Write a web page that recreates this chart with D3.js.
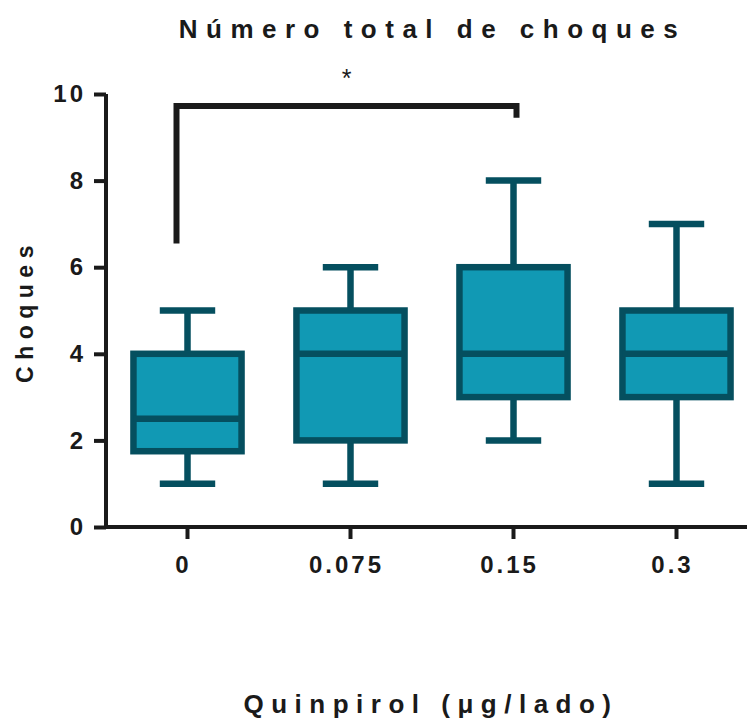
<!DOCTYPE html>
<html lang="es">
  <head>
    <meta charset="utf-8">
    <title>Número total de choques</title>
    <script src="https://cdn.jsdelivr.net/npm/d3@7"></script>
    <style>
html, body {
  margin: 0;
  padding: 0;
  background: #fff;
}
svg {
  display: block;
  font-family: "Liberation Sans", Arial, sans-serif;
  font-weight: bold;
}
.axis path, .axis line {
  stroke: #1a1a1a;
  stroke-width: 4px;
}
.axis text {
  font-family: "Liberation Sans", Arial, sans-serif;
  font-size: 24px;
  font-weight: bold;
  letter-spacing: 3px;
  fill: #1a1a1a;
}
    </style>
  </head>
  <body>
    <script>

// datos de cada grupo
var grupos = ["0", "0.075", "0.15", "0.3"];
var minimos = [1, 1, 2, 1];
var q1 = [1.75, 2, 3, 3];
var medianas = [2.5, 4, 4, 4];
var q3 = [4, 5, 6, 5];
var maximos = [5, 6, 8, 7];
var yTicks = [0, 2, 4, 6, 8, 10];

// comparación significativa: 0 vs 0.15
var sig = { desde: "0", hasta: "0.15", y: 9.72, yIzq: 6.55, yDer: 9.45, texto: "*" };

var width = 747, height = 725;

var svg = d3.select("body").append("svg")
    .attr("width", width)
    .attr("height", height);

var x = d3.scaleBand()
    .domain(grupos)
    .range([106, 758]);

var y = d3.scaleLinear()
    .domain([0, 10])
    .range([527, 94]);

var boxW = x.bandwidth() * 0.7;
var capW = x.bandwidth() * 0.34;
var dark = "#054f5f";
var fill = "#1199b4";

// ejes
var yAxis = svg.append("g")
    .attr("class", "axis")
    .attr("transform", "translate(106,0)")
    .call(d3.axisLeft(y).tickValues(yTicks).tickSize(12).tickSizeOuter(0).tickPadding(8));

yAxis.select(".domain").attr("d", "M0," + y(0) + "V" + y(10));

var xAxis = svg.append("g")
    .attr("class", "axis")
    .attr("transform", "translate(0," + y(0) + ")")
    .call(d3.axisBottom(x).tickSize(12).tickSizeOuter(0).tickPadding(17));

xAxis.select(".domain").attr("d", "M104,0H" + width);
xAxis.selectAll(".tick text").attr("dx", -4);

// cajas
var cajas = svg.append("g").selectAll("g")
    .data(grupos)
  .enter().append("g")
    .attr("transform", function(d) { return "translate(" + (x(d) + x.bandwidth() / 2) + ",0)"; });

cajas.each(function(d, i) {
  var g = d3.select(this);
  // bigotes
  g.append("line")
      .attr("x1", 0).attr("x2", 0)
      .attr("y1", y(maximos[i])).attr("y2", y(q3[i]))
      .attr("stroke", dark).attr("stroke-width", 6.5);
  g.append("line")
      .attr("x1", 0).attr("x2", 0)
      .attr("y1", y(q1[i])).attr("y2", y(minimos[i]))
      .attr("stroke", dark).attr("stroke-width", 6.5);
  g.append("line")
      .attr("x1", -capW / 2).attr("x2", capW / 2)
      .attr("y1", y(maximos[i])).attr("y2", y(maximos[i]))
      .attr("stroke", dark).attr("stroke-width", 6.5);
  g.append("line")
      .attr("x1", -capW / 2).attr("x2", capW / 2)
      .attr("y1", y(minimos[i])).attr("y2", y(minimos[i]))
      .attr("stroke", dark).attr("stroke-width", 6.5);
  // caja
  g.append("rect")
      .attr("x", -boxW / 2 + 3)
      .attr("width", boxW - 6)
      .attr("y", y(q3[i]))
      .attr("height", y(q1[i]) - y(q3[i]))
      .attr("fill", fill)
      .attr("stroke", dark)
      .attr("stroke-width", 6.5);
  // mediana
  g.append("line")
      .attr("x1", -boxW / 2 + 3).attr("x2", boxW / 2 - 3)
      .attr("y1", y(medianas[i])).attr("y2", y(medianas[i]))
      .attr("stroke", dark).attr("stroke-width", 6.5);
});

// barra de significancia
var xa = x(sig.desde) + x.bandwidth() / 2 - 11;
var xb = x(sig.hasta) + x.bandwidth() / 2 + 3;
svg.append("path")
    .attr("d", "M" + xa + "," + y(sig.yIzq) + "V" + y(sig.y) + "H" + xb + "V" + y(sig.yDer))
    .attr("fill", "none")
    .attr("stroke", "#1a1a1a")
    .attr("stroke-width", 6);

svg.append("text")
    .attr("x", (xa + xb) / 2)
    .attr("y", 87)
    .attr("text-anchor", "middle")
    .style("font-size", "25px")
    .style("font-weight", "normal")
    .attr("fill", "#1a1a1a")
    .text(sig.texto);

// títulos
svg.append("text")
    .attr("x", 432.5)
    .attr("y", 38)
    .attr("text-anchor", "middle")
    .style("font-size", "26px")
    .style("letter-spacing", "8.5px")
    .attr("fill", "#1a1a1a")
    .text("Número total de choques");

svg.append("text")
    .attr("transform", "translate(33,311) rotate(-90)")
    .attr("text-anchor", "middle")
    .style("font-size", "23px")
    .style("letter-spacing", "6.5px")
    .attr("fill", "#1a1a1a")
    .text("Choques");

svg.append("text")
    .attr("x", 431)
    .attr("y", 713)
    .attr("text-anchor", "middle")
    .style("font-size", "26px")
    .style("letter-spacing", "7.5px")
    .attr("fill", "#1a1a1a")
    .text("Quinpirol (μg/lado)");

    </script>
  </body>
</html>
